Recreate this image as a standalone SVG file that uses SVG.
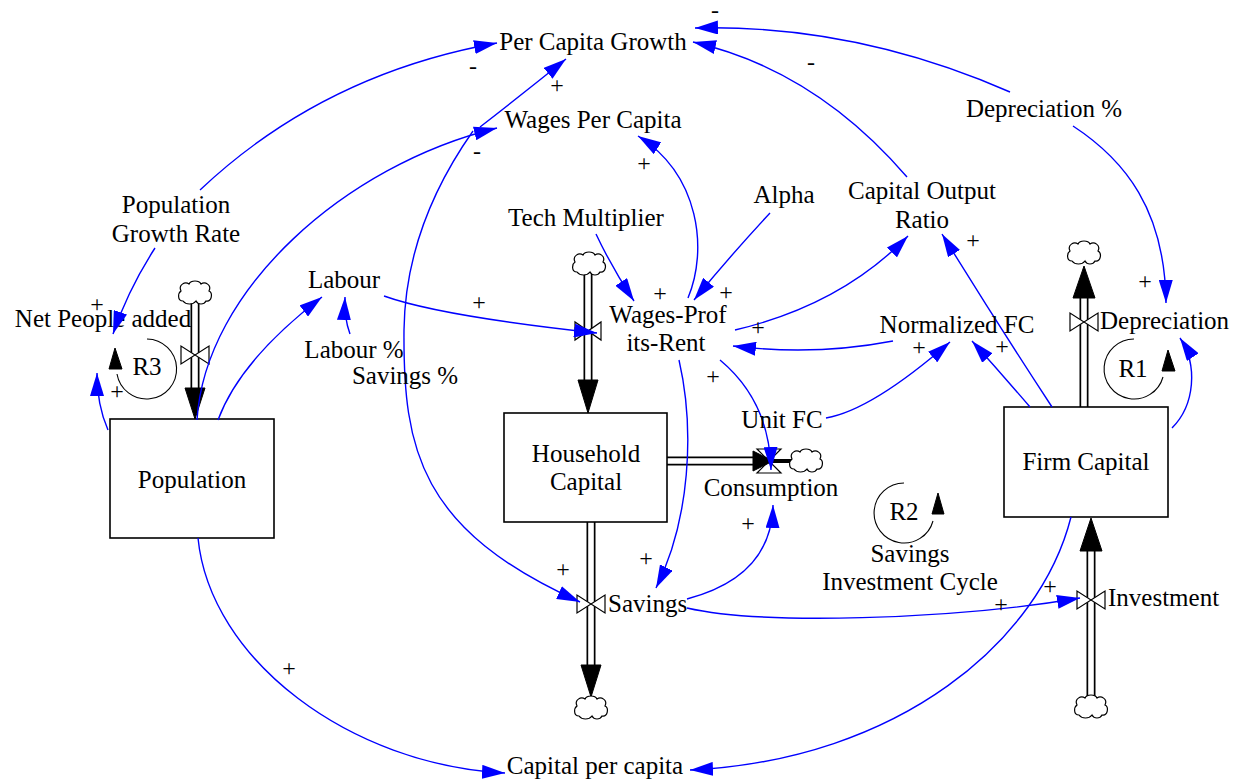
<svg xmlns="http://www.w3.org/2000/svg" xmlns:xlink="http://www.w3.org/1999/xlink" width="1235" height="782" viewBox="0 0 1235 782">
<style>
text{font-family:"Liberation Serif","Times New Roman",serif;font-size:25px;fill:#000}
.m{text-anchor:middle}
.s{text-anchor:start}
.pol{font-size:24px;text-anchor:middle}
.lk{fill:none;stroke:#0000ff;stroke-width:1.4;marker-end:url(#ab)}
.po{stroke:#000;stroke-width:9;fill:none}
.pi{stroke:#fff;stroke-width:5.6;fill:none}
.ah{fill:#000;stroke:#000;stroke-width:1}
.valve{fill:#fff;stroke:#000;stroke-width:1.2}
.stock{fill:#fff;stroke:#000;stroke-width:1.6}
.cloud{fill:#fff;stroke:#000;stroke-width:1.2}
.loop{fill:none;stroke:#000;stroke-width:1.1}
</style>
<defs>
<marker id="ab" markerUnits="userSpaceOnUse" markerWidth="24" markerHeight="14" refX="23" refY="7" orient="auto">
<path d="M0,0 L23,7 L0,14 Z" fill="#0000ff"/>
</marker>
<path id="cl" class="cloud" d="M-12,8 C-18,8 -17,0 -14,-2 C-17,-8 -10,-12 -6,-9 C-4,-13 4,-13 6,-9 C10,-12 17,-8 14,-2 C18,0 17,9 11,8 C9,12 3,12 1,8 C-2,12 -9,12 -12,8 Z"/>
</defs>
<rect width="1235" height="782" fill="#fff"/>

<!-- flows / pipes -->
<g id="flow-net-people-added">
<line class="po" x1="195" y1="303" x2="195" y2="390"/>
<line class="pi" x1="195" y1="303" x2="195" y2="390"/>
<polygon class="ah" points="185,388 205,388 195,419"/>
<use xlink:href="#cl" x="195" y="293"/>
<path class="valve" d="M181,346 L181,364 L209,346 L209,364 Z"/>
<text class="m" x="103" y="327">Net People added</text>
</g>
<g id="flow-wages-profits-rent">
<line class="po" x1="588" y1="274" x2="588" y2="382"/>
<line class="pi" x1="588" y1="274" x2="588" y2="382"/>
<polygon class="ah" points="578,380 598,380 588,413"/>
<use xlink:href="#cl" x="589" y="264"/>
<path class="valve" d="M575,322 L575,340 L601,322 L601,340 Z"/>
<text class="m" x="668" y="323">Wages-Prof</text>
<text class="m" x="666" y="351">its-Rent</text>
</g>
<g id="flow-consumption">
<line class="po" x1="667" y1="461" x2="754" y2="461"/>
<line class="pi" x1="667" y1="461" x2="754" y2="461"/>
<path class="valve" d="M757,449 L781,449 L757,473 L781,473 Z"/>
<polygon class="ah" points="753,451 753,471 773,461"/>
<line x1="772" y1="461" x2="792" y2="461" stroke="#000" stroke-width="4"/>
<use xlink:href="#cl" x="806" y="461"/>
<text class="m" x="771" y="496">Consumption</text>
</g>
<g id="flow-savings">
<line class="po" x1="591" y1="522" x2="591" y2="667"/>
<line class="pi" x1="591" y1="522" x2="591" y2="667"/>
<polygon class="ah" points="581,665 601,665 591,697"/>
<use xlink:href="#cl" x="591" y="708"/>
<path class="valve" d="M577,595 L577,613 L605,595 L605,613 Z"/>
<text class="s" x="608" y="612">Savings</text>
</g>
<g id="flow-depreciation">
<line class="po" x1="1084" y1="407" x2="1084" y2="296"/>
<line class="pi" x1="1084" y1="407" x2="1084" y2="296"/>
<polygon class="ah" points="1073,298 1095,298 1084,266"/>
<use xlink:href="#cl" x="1084" y="253"/>
<path class="valve" d="M1070,313 L1070,331 L1098,313 L1098,331 Z"/>
<text class="s" x="1100" y="329">Depreciation</text>
</g>
<g id="flow-investment">
<line class="po" x1="1091" y1="697" x2="1091" y2="549"/>
<line class="pi" x1="1091" y1="697" x2="1091" y2="549"/>
<polygon class="ah" points="1080,551 1102,551 1091,518"/>
<use xlink:href="#cl" x="1091" y="707"/>
<path class="valve" d="M1077,591 L1077,609 L1105,591 L1105,609 Z"/>
<text class="s" x="1108" y="606">Investment</text>
</g>

<!-- stocks -->
<g id="stock-population">
<rect class="stock" x="110" y="419" width="164" height="119"/>
<text class="m" x="192" y="488">Population</text>
</g>
<g id="stock-household-capital">
<rect class="stock" x="504" y="413" width="163" height="109"/>
<text class="m" x="586" y="462">Household</text>
<text class="m" x="586" y="490">Capital</text>
</g>
<g id="stock-firm-capital">
<rect class="stock" x="1004" y="407" width="164" height="110"/>
<text class="m" x="1086" y="470">Firm Capital</text>
</g>

<!-- connectors -->
<g id="connectors">
<path class="lk" d="M200,190 Q323,74 497,43"/>
<path class="lk" d="M197,420 C205,290 345,165 497,128"/>
<path class="lk" d="M218,420 Q240,360 322,297"/>
<path class="lk" d="M350,334 Q344,318 345,297"/>
<path class="lk" d="M384,296 Q440,316 597,333"/>
<path class="lk" d="M596,234 Q612,268 634,301"/>
<path class="lk" d="M770,213 Q730,256 694,300"/>
<path class="lk" d="M688,298 C708,250 700,175 638,136"/>
<path class="lk" d="M735,330 Q841,305 908,236"/>
<path class="lk" d="M893,341 Q815,356 733,346"/>
<path class="lk" d="M826,418 Q872,410 950,342"/>
<path class="lk" d="M1030,407 Q1000,372 972,341"/>
<path class="lk" d="M1052,407 Q995,320 942,234"/>
<path class="lk" d="M907,177 Q815,70 693,42"/>
<path class="lk" d="M1010,92 Q855,24 695,28"/>
<path class="lk" d="M1073,126 C1125,160 1165,210 1166,303"/>
<path class="lk" d="M1172,428 C1195,405 1198,365 1180,338"/>
<path class="lk" d="M1071,517 C1040,640 900,760 690,770"/>
<path class="lk" d="M198,538 C210,660 350,765 505,773"/>
<path class="lk" d="M480,127 Q525,92 566,59"/>
<path class="lk" d="M473,131 C435,185 405,250 404,330 C403,450 420,530 580,602"/>
<path class="lk" d="M679,360 C695,430 690,520 656,588"/>
<path class="lk" d="M720,360 C750,385 770,420 771,470"/>
<path class="lk" d="M687,599 C740,585 772,555 773,505"/>
<path class="lk" d="M687,608 C760,625 950,620 1080,598"/>
<path class="lk" d="M108,430 Q97,405 97,373"/>
<path class="lk" d="M155,248 Q128,290 113,334"/>
</g>

<!-- polarities -->
<g id="polarities">
<text class="pol" x="715" y="18">-</text>
<text class="pol" x="473" y="74">-</text>
<text class="pol" x="557" y="93">+</text>
<text class="pol" x="811" y="70">-</text>
<text class="pol" x="477" y="159">-</text>
<text class="pol" x="644" y="171">+</text>
<text class="pol" x="97" y="312">+</text>
<text class="pol" x="117" y="399">+</text>
<text class="pol" x="479" y="310">+</text>
<text class="pol" x="660" y="301">+</text>
<text class="pol" x="726" y="300">+</text>
<text class="pol" x="758" y="335">+</text>
<text class="pol" x="973" y="248">+</text>
<text class="pol" x="1145" y="289">+</text>
<text class="pol" x="919" y="355">+</text>
<text class="pol" x="1002" y="354">+</text>
<text class="pol" x="713" y="384">+</text>
<text class="pol" x="646" y="566">+</text>
<text class="pol" x="563" y="577">+</text>
<text class="pol" x="748" y="531">+</text>
<text class="pol" x="1001" y="612">+</text>
<text class="pol" x="1050" y="594">+</text>
<text class="pol" x="289" y="676">+</text>
</g>

<!-- auxiliaries -->
<g id="aux-per-capita-growth"><text class="m" x="593" y="50">Per Capita Growth</text></g>
<g id="aux-wages-per-capita"><text class="m" x="593" y="128">Wages Per Capita</text></g>
<g id="aux-population-growth-rate"><text class="m" x="176" y="213">Population</text><text class="m" x="176" y="242">Growth Rate</text></g>
<g id="aux-labour"><text class="m" x="344" y="288">Labour</text></g>
<g id="aux-labour-pct"><text class="m" x="354" y="358">Labour %</text></g>
<g id="aux-savings-pct"><text class="m" x="405" y="384">Savings %</text></g>
<g id="aux-tech-multiplier"><text class="m" x="586" y="226">Tech Multiplier</text></g>
<g id="aux-alpha"><text class="m" x="784" y="203">Alpha</text></g>
<g id="aux-capital-output-ratio"><text class="m" x="922" y="199">Capital Output</text><text class="m" x="922" y="228">Ratio</text></g>
<g id="aux-depreciation-pct"><text class="m" x="1044" y="117">Depreciation %</text></g>
<g id="aux-normalized-fc"><text class="m" x="957" y="333">Normalized FC</text></g>
<g id="aux-unit-fc"><text class="m" x="782" y="428">Unit FC</text></g>
<g id="aux-capital-per-capita"><text class="m" x="595" y="774">Capital per capita</text></g>

<!-- loops -->
<g id="loop-r1">
<path class="loop" d="M1134,339 A30,30 0 1 0 1163,377"/>
<polygon class="ah" points="1162,371 1175,371 1168,350"/>
<text class="m" x="1133" y="377">R1</text>
</g>
<g id="loop-r2">
<path class="loop" d="M904,483 A30,30 0 1 0 933,521"/>
<polygon class="ah" points="932,514 944,514 938,493"/>
<text class="m" x="904" y="520">R2</text>
<text class="m" x="910" y="562">Savings</text>
<text class="m" x="910" y="590">Investment Cycle</text>
</g>
<g id="loop-r3">
<path class="loop" d="M147,339 A30,30 0 1 1 117,374"/>
<polygon class="ah" points="109,369 122,369 115,348"/>
<text class="m" x="147" y="375">R3</text>
</g>
</svg>
